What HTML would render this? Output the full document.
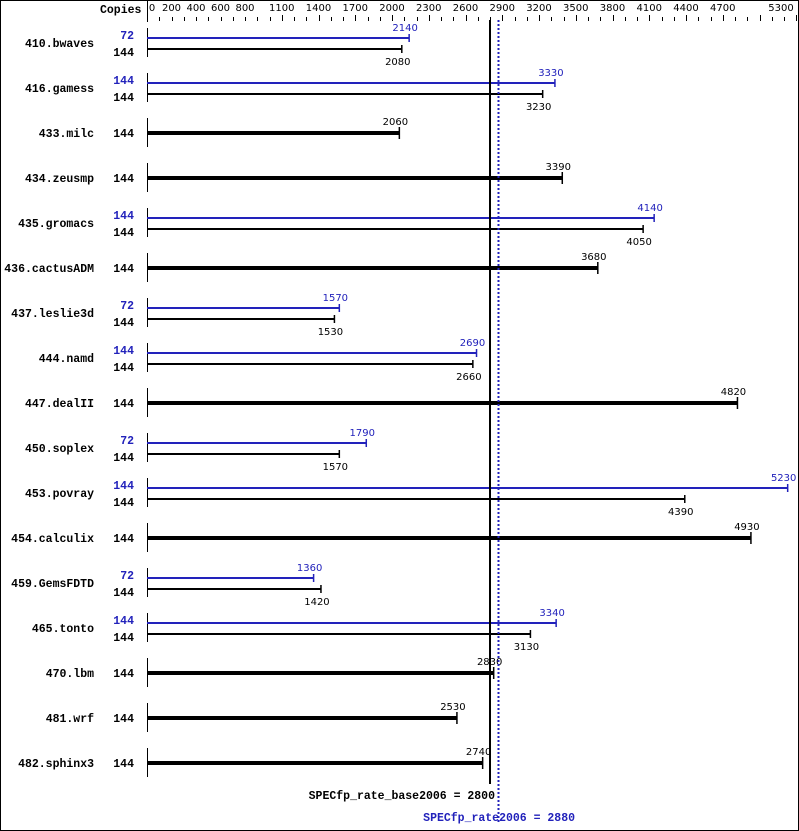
<!DOCTYPE html>
<html><head><meta charset="utf-8"><style>
html,body{margin:0;padding:0;background:#fff}
svg{display:block}
.n{font-family:"Liberation Mono",monospace;font-weight:bold;font-size:11.5px}
.v{font-family:"DejaVu Sans","Liberation Sans",sans-serif;font-size:10px}
</style></head><body>
<svg id="s" width="799" height="831" viewBox="0 0 799 831" xmlns="http://www.w3.org/2000/svg">
<rect x="0.5" y="0.5" width="798" height="830" fill="#fff" stroke="#000"/>
<text class="n" x="100" y="13">Copies</text>
<line x1="147.5" y1="0" x2="147.5" y2="22" stroke="#000"/>
<g id="ticks"></g>
<g id="rows"></g>
<line x1="490" y1="20" x2="490" y2="784" stroke="#000" stroke-width="2"/>
<line x1="498.5" y1="20" x2="498.5" y2="822" stroke="#2222bb" stroke-width="2" stroke-dasharray="2,2"/>
<text class="n" x="495" y="799" text-anchor="end">SPECfp_rate_base2006 = 2800</text>
<text class="n" x="575" y="821" text-anchor="end" fill="#2222bb">SPECfp_rate2006 = 2880</text>
</svg>
<script>
var NS="http://www.w3.org/2000/svg";
function X(v){return 147+v*0.1225;}
function el(p,t,a,txt){var e=document.createElementNS(NS,t);for(var k in a)e.setAttribute(k,a[k]);if(txt!==undefined)e.textContent=txt;p.appendChild(e);return e;}
var tg=document.getElementById("ticks");
var labs=[0,200,400,600,800,1100,1400,1700,2000,2300,2600,2900,3200,3500,3800,4100,4400,4700,5300];
for(var v=100;v<=5300;v+=100){var x=Math.round(X(v))+0.5;var big=(v%300==200&&v>=1100)||v==5300;
el(tg,"line",{x1:x,y1:big?15:17,x2:x,y2:21,stroke:"#000"});}
labs.forEach(function(v){el(tg,"text",{"class":"v",x:v==0?152:(v==5300?781:X(v)),y:11,"text-anchor":"middle"},String(v));});
var rows=[["410.bwaves",72,2140,144,2080],["416.gamess",144,3330,144,3230],["433.milc",0,0,144,2060],["434.zeusmp",0,0,144,3390],
["435.gromacs",144,4140,144,4050],["436.cactusADM",0,0,144,3680],["437.leslie3d",72,1570,144,1530],["444.namd",144,2690,144,2660],
["447.dealII",0,0,144,4820],["450.soplex",72,1790,144,1570],["453.povray",144,5230,144,4390],["454.calculix",0,0,144,4930],
["459.GemsFDTD",72,1360,144,1420],["465.tonto",144,3340,144,3130],["470.lbm",0,0,144,2830],["481.wrf",0,0,144,2530],["482.sphinx3",0,0,144,2740]];
var rg=document.getElementById("rows");var B="#2222bb";
rows.forEach(function(r,i){var c=43+45*i;
el(rg,"text",{"class":"n",x:94,y:c+4,"text-anchor":"end"},r[0]);
el(rg,"line",{x1:147.5,y1:c-15,x2:147.5,y2:c+14,stroke:"#000"});
if(r[1]){var xb=X(r[2]);
el(rg,"text",{"class":"n",x:134,y:c-4,"text-anchor":"end",fill:B},String(r[1]));
el(rg,"line",{x1:147,y1:c-5,x2:xb,y2:c-5,stroke:B,"stroke-width":2});
el(rg,"line",{x1:xb,y1:c-9,x2:xb,y2:c-1,stroke:B,"stroke-width":1.5});
el(rg,"text",{"class":"v",x:xb-4,y:c-12,"text-anchor":"middle",fill:B},String(r[2]));
var xk=X(r[4]);
el(rg,"text",{"class":"n",x:134,y:c+13,"text-anchor":"end"},"144");
el(rg,"line",{x1:147,y1:c+6,x2:xk,y2:c+6,stroke:"#000","stroke-width":2});
el(rg,"line",{x1:xk,y1:c+2,x2:xk,y2:c+10,stroke:"#000","stroke-width":1.5});
el(rg,"text",{"class":"v",x:xk-4,y:c+22,"text-anchor":"middle"},String(r[4]));
}else{var xk=X(r[4]);
el(rg,"text",{"class":"n",x:134,y:c+4,"text-anchor":"end"},"144");
el(rg,"line",{x1:147,y1:c,x2:xk,y2:c,stroke:"#000","stroke-width":4});
el(rg,"line",{x1:xk,y1:c-6,x2:xk,y2:c+6,stroke:"#000","stroke-width":1.5});
el(rg,"text",{"class":"v",x:xk-4,y:c-8,"text-anchor":"middle"},String(r[4]));}
});
</script>
</body></html>
